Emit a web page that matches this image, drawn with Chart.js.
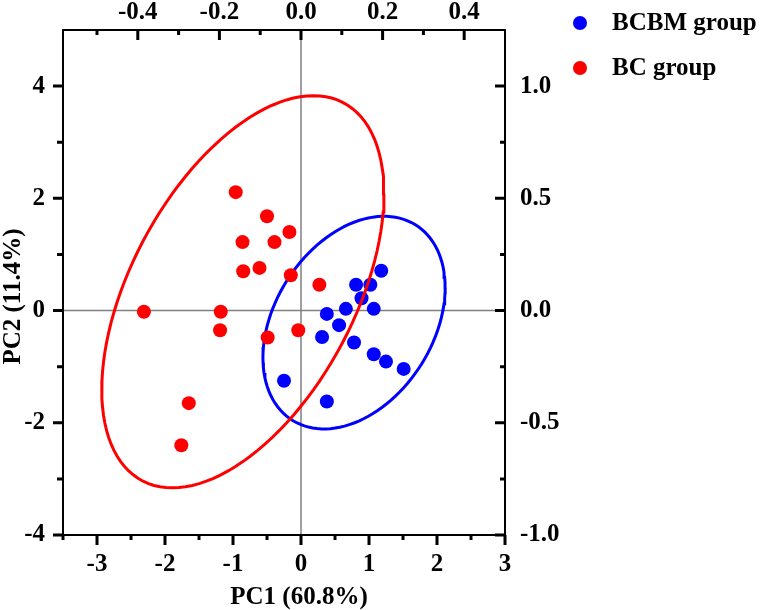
<!DOCTYPE html>
<html>
<head>
<meta charset="utf-8">
<script src="https://cdn.jsdelivr.net/npm/chart.js@4.4.0/dist/chart.umd.min.js"></script>
<style>
  html, body { margin: 0; padding: 0; background: #fff; }
</style>
</head>
<body>
<canvas id="pca" width="761" height="610"></canvas>
<script>
// PC scores
const bcbmX = [1.18, 0.81, 1.02, 0.89, 0.66, 1.07, 0.38, 0.56, 0.31, 0.78, 1.07, 1.25, 1.51, -0.25, 0.38];
const bcbmY = [0.71, 0.46, 0.46, 0.22, 0.03, 0.03, -0.06, -0.26, -0.47, -0.57, -0.78, -0.91, -1.04, -1.25, -1.62];
const bcX = [-0.96, -0.50, -0.17, -0.86, -0.39, -0.61, -0.85, -0.15, 0.27, -2.31, -1.18, -1.19, -0.49, -0.04, -1.65, -1.76];
const bcY = [2.11, 1.68, 1.40, 1.22, 1.22, 0.76, 0.70, 0.63, 0.46, -0.02, -0.02, -0.35, -0.48, -0.35, -1.65, -2.40];

// confidence ellipses: centre, half extent on PC1 / PC2, correlation
const bcbmEllipse = { cx: 0.78, cy: -0.215, ax: 1.34, ay: 1.895, r: 0.33 };
const bcEllipse = { cx: -0.855, cy: 0.335, ax: 2.075, ay: 3.495, r: 0.5 };

const groupNames = ["BCBM group", "BC group"];
const xTitle = "PC1 (60.8%)";
const yTitle = "PC2 (11.4%)";

// axis ticks (bottom, left = scores; top, right = loadings)
const xTicks = [-3, -2, -1, 0, 1, 2, 3];
const xMinor = [-3.5, -2.5, -1.5, -0.5, 0.5, 1.5, 2.5];
const yTicks = [-4, -2, 0, 2, 4];
const yMinor = [-3, -1, 1, 3];
const topTicks = [-0.4, -0.2, 0, 0.2, 0.4];
const topMinor = [-0.5, -0.3, -0.1, 0.1, 0.3];
const rightTicks = [-1, -0.5, 0, 0.5, 1];
const rightMinor = [-0.75, -0.25, 0.25, 0.75];

const BLUE = "#0000ff";
const RED = "#ff0000";
const font = { family: "'Liberation Serif', 'Times New Roman', serif", size: 25, weight: "bold" };
const fontStr = "bold 25px 'Liberation Serif', 'Times New Roman', serif";

function toPoints(xs, ys) {
  return xs.map((x, i) => ({ x: x, y: ys[i] }));
}

// outline of an ellipse given in data units
function ellipseOutline(e) {
  const pts = [];
  const s = Math.sqrt(1 - e.r * e.r);
  for (let a = 0; a <= 360; a += 3) {
    const t = a * Math.PI / 180;
    pts.push({ x: e.cx + e.ax * Math.cos(t), y: e.cy + e.ay * (e.r * Math.cos(t) + s * Math.sin(t)) });
  }
  return pts;
}

function fixedTicks(list) {
  return (scale) => { scale.ticks = list.map((v) => ({ value: v })); };
}

const hiddenGrid = { display: true, drawOnChartArea: false, drawTicks: true, tickLength: 10, tickColor: "rgba(0,0,0,0)" };

// zero lines, frame, tick marks, titles and legend
const decor = {
  id: "decor",
  beforeDatasetsDraw(chart) {
    const { ctx, chartArea: a, scales } = chart;
    ctx.save();
    ctx.strokeStyle = "#808080";
    ctx.lineWidth = 1.5;
    const x0 = scales.x.getPixelForValue(0);
    const y0 = scales.y.getPixelForValue(0);
    ctx.beginPath();
    ctx.moveTo(x0, a.top); ctx.lineTo(x0, a.bottom);
    ctx.moveTo(a.left, y0); ctx.lineTo(a.right, y0);
    ctx.stroke();
    ctx.restore();
  },
  afterDraw(chart) {
    const { ctx, chartArea: a, scales } = chart;
    ctx.save();
    ctx.strokeStyle = "#000";
    ctx.lineWidth = 2;
    ctx.strokeRect(a.left, a.top, a.right - a.left, a.bottom - a.top);

    ctx.lineWidth = 3;
    ctx.beginPath();
    const tick = (list, len, fn) => list.forEach((v) => fn(v, len));
    // bottom, outward
    const bx = (v, len) => { const p = scales.x.getPixelForValue(v); ctx.moveTo(p, a.bottom); ctx.lineTo(p, a.bottom + len); };
    tick(xTicks, 10, bx); tick(xMinor, 5, bx);
    // left, outward
    const ly = (v, len) => { const p = scales.y.getPixelForValue(v); ctx.moveTo(a.left, p); ctx.lineTo(a.left - len, p); };
    tick(yTicks, 10, ly); tick(yMinor, 6, ly);
    // top, inward
    const tx = (v, len) => { const p = scales.x2.getPixelForValue(v); ctx.moveTo(p, a.top); ctx.lineTo(p, a.top + len); };
    tick(topTicks, 10, tx); tick(topMinor, 5, tx);
    // right, inward
    const ry = (v, len) => { const p = scales.y2.getPixelForValue(v); ctx.moveTo(a.right, p); ctx.lineTo(a.right - len, p); };
    tick(rightTicks, 10, ry); tick(rightMinor, 5, ry);
    ctx.stroke();

    // axis titles
    ctx.fillStyle = "#000";
    ctx.font = fontStr;
    ctx.textAlign = "center";
    ctx.textBaseline = "alphabetic";
    ctx.fillText(xTitle, (a.left + a.right) / 2 + 15, chart.height - 6);
    ctx.save();
    ctx.translate(20, (a.top + a.bottom) / 2 + 14);
    ctx.rotate(-Math.PI / 2);
    ctx.fillText(yTitle, 0, 0);
    ctx.restore();

    // legend
    const colors = [BLUE, RED];
    ctx.textAlign = "left";
    ctx.textBaseline = "middle";
    groupNames.forEach((name, i) => {
      const cy = 23 + i * 45;
      ctx.fillStyle = colors[i];
      ctx.beginPath();
      ctx.arc(a.right + 75, cy, 7, 0, Math.PI * 2);
      ctx.fill();
      ctx.fillStyle = "#000";
      ctx.fillText(name, a.right + 107, cy + 1);
    });
    ctx.restore();
  }
};

new Chart(document.getElementById("pca"), {
  type: "scatter",
  data: {
    datasets: [
      { label: "BC ellipse", data: ellipseOutline(bcEllipse), showLine: true, borderColor: RED, borderWidth: 3, pointRadius: 0, fill: false, order: 0 },
      { label: groupNames[0], data: toPoints(bcbmX, bcbmY), backgroundColor: BLUE, borderWidth: 0, pointRadius: 7, order: 1 },
      { label: groupNames[1], data: toPoints(bcX, bcY), backgroundColor: RED, borderWidth: 0, pointRadius: 7, order: 2 },
      { label: "BCBM ellipse", data: ellipseOutline(bcbmEllipse), showLine: true, borderColor: BLUE, borderWidth: 3, pointRadius: 0, fill: false, order: 3 }
    ]
  },
  options: {
    responsive: false,
    animation: false,
    devicePixelRatio: 1,
    layout: { padding: { left: 0, right: 186, top: 0, bottom: 0 } },
    plugins: { legend: { display: false }, tooltip: { enabled: false } },
    scales: {
      x: {
        type: "linear", position: "bottom", min: -3.5, max: 3,
        afterBuildTicks: fixedTicks(xTicks),
        afterFit: (s) => { s.height = 75; },
        grid: hiddenGrid, border: { display: false },
        ticks: { font, color: "#000", padding: 5, maxRotation: 0, autoSkip: false, callback: (v) => String(v) }
      },
      y: {
        type: "linear", position: "left", min: -4, max: 5,
        afterBuildTicks: fixedTicks(yTicks),
        afterFit: (s) => { s.width = 63; },
        grid: hiddenGrid, border: { display: false },
        ticks: { font, color: "#000", padding: 8, autoSkip: false, callback: (v) => String(v) }
      },
      x2: {
        type: "linear", position: "top", min: -3.5 / 6, max: 0.5,
        afterBuildTicks: fixedTicks(topTicks),
        afterFit: (s) => { s.height = 29; },
        grid: { display: false, drawTicks: false }, border: { display: false },
        ticks: { font, color: "#000", padding: 2, maxRotation: 0, autoSkip: false, callback: (v) => v.toFixed(1) }
      },
      y2: {
        type: "linear", position: "right", min: -1, max: 1.25,
        afterBuildTicks: fixedTicks(rightTicks),
        afterFit: (s) => { s.width = 70; },
        grid: { display: false, drawTicks: false }, border: { display: false },
        ticks: { font, color: "#000", padding: 15, autoSkip: false, callback: (v) => v.toFixed(1) }
      }
    }
  },
  plugins: [decor]
});
</script>
</body>
</html>
